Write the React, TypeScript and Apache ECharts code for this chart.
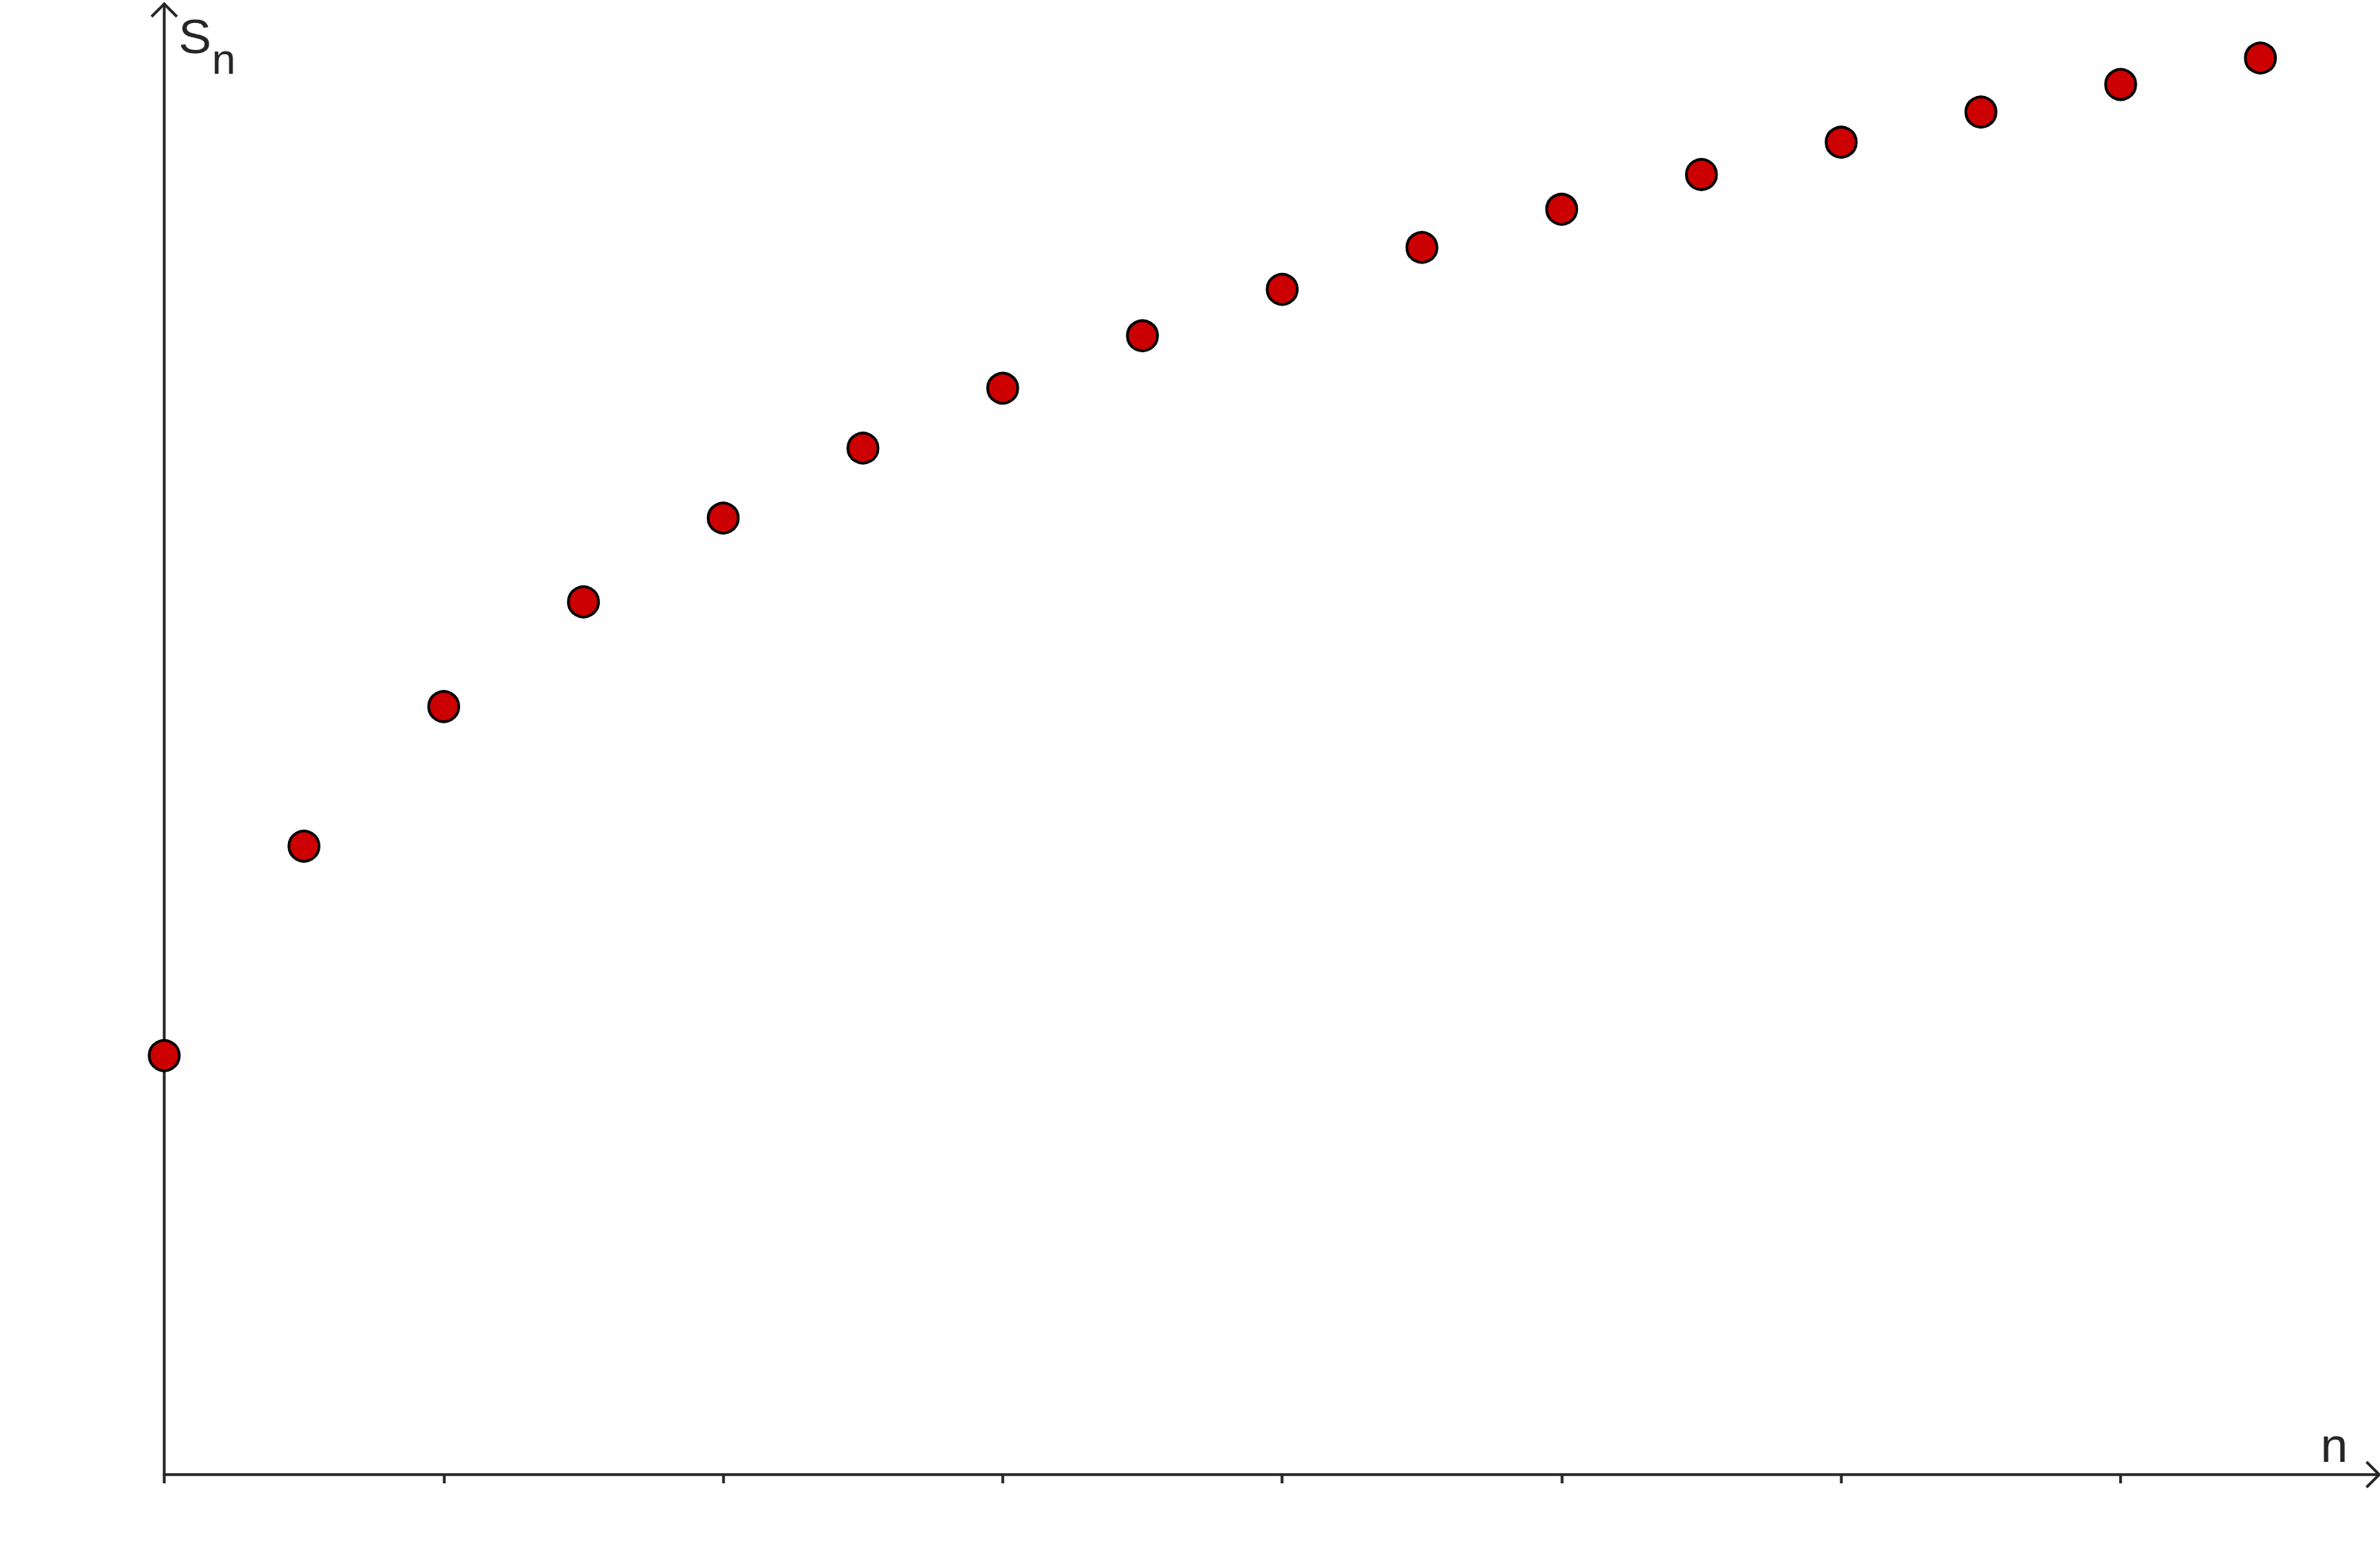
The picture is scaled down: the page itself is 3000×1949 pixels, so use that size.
import React, { useEffect, useRef } from "react";
import * as echarts from "echarts";

// n values (index of the partial sum)
const nValues = [0, 1, 2, 3, 4, 5, 6, 7, 8, 9, 10, 11, 12, 13, 14, 15];
// S_n values
const sValues = [1, 1.5, 1.833, 2.083, 2.283, 2.45, 2.593, 2.718, 2.829, 2.929, 3.02, 3.103, 3.18, 3.252, 3.318, 3.381];
// tick positions along the n axis (no labels)
const xTicks = [0, 2, 4, 6, 8, 10, 12, 14];
const xMax = 15.85;
const yMax = 3.51;

const AXIS = "#262626";
const FONT = "'Liberation Sans', Arial, sans-serif";

export default function App() {
  const ref = useRef<HTMLDivElement>(null);
  useEffect(() => {
    if (!ref.current) return;
    const chart = echarts.init(ref.current, undefined, { renderer: "svg" });
    const data = nValues.map((n, i) => [n, sValues[i]]);
    chart.setOption({
      animation: false,
      backgroundColor: "#ffffff",
      grid: { left: 207, top: 5, right: 1, bottom: 90, containLabel: false },
      xAxis: {
        type: "value",
        min: 0,
        max: xMax,
        interval: 2,
        axisLine: { show: true, onZero: false, lineStyle: { color: AXIS, width: 3.5 } },
        axisTick: { show: true, inside: false, length: 11, customValues: xTicks, lineStyle: { color: AXIS, width: 3.5 } },
        axisLabel: { show: false },
        splitLine: { show: false },
      },
      yAxis: {
        type: "value",
        min: 0,
        max: yMax,
        axisLine: { show: true, onZero: false, lineStyle: { color: AXIS, width: 3.5 } },
        axisTick: { show: false },
        axisLabel: { show: false },
        splitLine: { show: false },
      },
      series: [
        {
          type: "scatter",
          data,
          symbol: "circle",
          symbolSize: 38,
          itemStyle: { color: "#cc0000", borderColor: "#000000", borderWidth: 3.5, opacity: 1 },
          z: 5,
        },
      ],
    });
    const yTip = chart.convertToPixel({ gridIndex: 0 }, [0, yMax]) as number[];
    const xTip = chart.convertToPixel({ gridIndex: 0 }, [xMax, 0]) as number[];
    const arm = 16;
    chart.setOption({
      graphic: [
        {
          type: "polyline",
          shape: { points: [[yTip[0] - arm, yTip[1] + arm], [yTip[0], yTip[1]], [yTip[0] + arm, yTip[1] + arm]] },
          style: { stroke: AXIS, lineWidth: 3.5, fill: "none" },
        },
        {
          type: "polyline",
          shape: { points: [[xTip[0] - arm, xTip[1] - arm], [xTip[0], xTip[1]], [xTip[0] - arm, xTip[1] + arm]] },
          style: { stroke: AXIS, lineWidth: 3.5, fill: "none" },
        },
        {
          type: "text",
          x: yTip[0] + 18,
          y: yTip[1] + 40,
          style: { text: "S", font: `62px ${FONT}`, fill: AXIS, verticalAlign: "middle", align: "left" },
        },
        {
          type: "text",
          x: yTip[0] + 60,
          y: yTip[1] + 69,
          style: { text: "n", font: `54px ${FONT}`, fill: AXIS, verticalAlign: "middle", align: "left" },
        },
        {
          type: "text",
          x: xTip[0] - 74,
          y: xTip[1] - 38,
          style: { text: "n", font: `62px ${FONT}`, fill: AXIS, verticalAlign: "middle", align: "left" },
        },
      ],
    });
    return () => chart.dispose();
  }, []);
  return (
    <div
      ref={ref}
      style={{ position: "absolute", left: 0, top: 0, width: 3000, height: 1949, background: "#fff" }}
    />
  );
}
